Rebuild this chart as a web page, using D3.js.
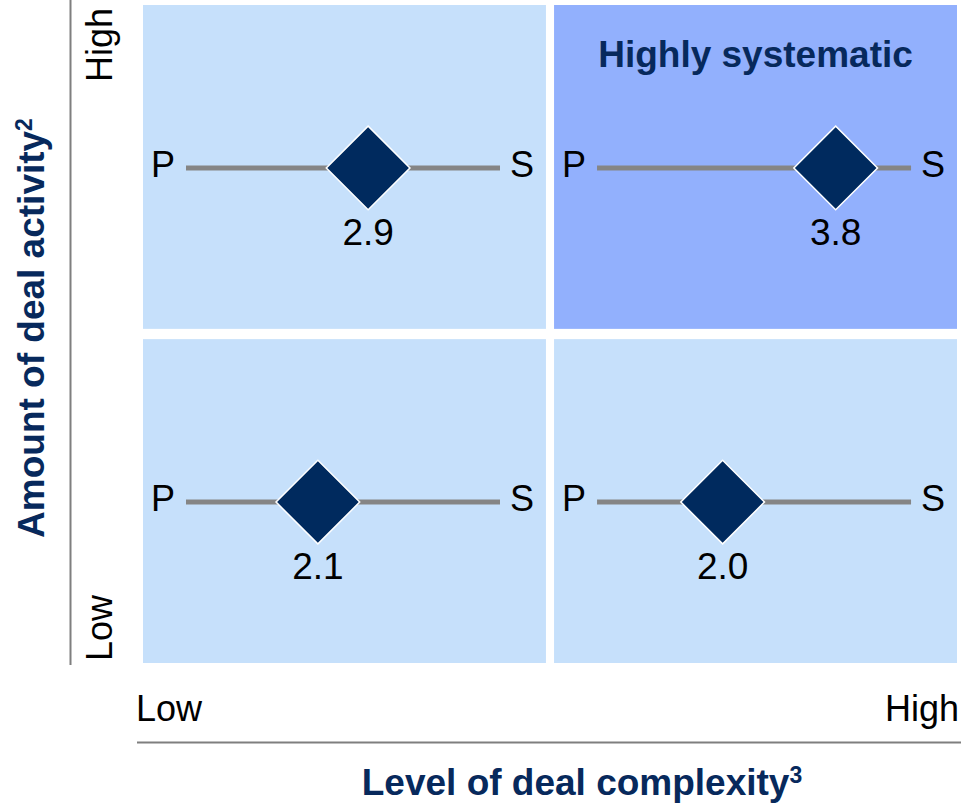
<!DOCTYPE html>
<html>
<head>
<meta charset="utf-8">
<script src="https://cdn.jsdelivr.net/npm/d3@7"></script>
<style>
  body { margin: 0; background: #fff; }
  text { font-family: Arial, "Liberation Sans", sans-serif; }
</style>
</head>
<body>
<div id="chart"></div>
<script>
const W = 961, H = 805

// data
var complexity = ["Low", "High"]      // columns
var activity = ["High", "Low"]        // rows, top first
var scores = [
  {col: "Low",  row: "High", value: 2.9},
  {col: "High", row: "High", value: 3.8},
  {col: "Low",  row: "Low",  value: 2.1},
  {col: "High", row: "Low",  value: 2.0}
]
var highlight = {col: "High", row: "High", label: "Highly systematic"}
var scaleEnds = ["P", "S"]
var scoreDomain = [0, 5]

const navy = "#07295c"

var svg = d3.select("#chart").append("svg")
  .attr("width", W)
  .attr("height", H)

var x = d3.scaleBand().domain(complexity).range([143, 957]).paddingInner(0.0197)
var y = d3.scaleBand().domain(activity).range([5, 663]).paddingInner(0.0307)

// cells
svg.selectAll("rect.cell")
  .data(d3.cross(complexity, activity))
  .enter()
  .append("rect")
    .attr("class", "cell")
    .attr("x", d => x(d[0]))
    .attr("y", d => y(d[1]))
    .attr("width", x.bandwidth())
    .attr("height", y.bandwidth())
    .attr("fill", d => (d[0] == highlight.col && d[1] == highlight.row) ? "#92b0fd" : "#c6e0fb")

// highlight title
svg.append("text")
  .attr("x", x(highlight.col) + x.bandwidth() / 2)
  .attr("y", y(highlight.row) + 62)
  .attr("text-anchor", "middle")
  .attr("font-size", 37)
  .attr("font-weight", "bold")
  .attr("fill", navy)
  .text(highlight.label)

// P..S scales inside each cell
var g = svg.selectAll("g.score")
  .data(scores)
  .enter()
  .append("g")
    .attr("class", "score")
    .attr("transform", d => "translate(" + x(d.col) + "," + (y(d.row) + y.bandwidth() / 2 + 1) + ")")

var s = d3.scaleLinear().domain(scoreDomain).range([43, 357])

g.append("line")
  .attr("x1", s(scoreDomain[0]))
  .attr("x2", s(scoreDomain[1]))
  .attr("stroke", "#858585")
  .attr("stroke-width", 5)

g.append("text")
  .attr("x", 20)
  .attr("y", 9)
  .attr("text-anchor", "middle")
  .attr("font-size", 36)
  .text(scaleEnds[0])

g.append("text")
  .attr("x", 379)
  .attr("y", 9)
  .attr("text-anchor", "middle")
  .attr("font-size", 36)
  .text(scaleEnds[1])

g.append("path")
  .attr("d", d3.symbol().type(d3.symbolSquare).size(3500))
  .attr("transform", d => "translate(" + s(d.value) + ",0) rotate(45)")
  .attr("fill", "#002a5e")
  .attr("stroke", "#fff")
  .attr("stroke-width", 1.5)

g.append("text")
  .attr("x", d => s(d.value))
  .attr("y", 77)
  .attr("text-anchor", "middle")
  .attr("font-size", 37)
  .text(d => d.value.toFixed(1))

// y axis
svg.append("line")
  .attr("x1", 70.5).attr("x2", 70.5)
  .attr("y1", 0).attr("y2", 665)
  .attr("stroke", "#7f7f7f")
  .attr("stroke-width", 2)

svg.append("text")
  .attr("transform", "translate(112,8) rotate(-90)")
  .attr("text-anchor", "end")
  .attr("font-size", 36)
  .text("High")

svg.append("text")
  .attr("transform", "translate(112,661) rotate(-90)")
  .attr("text-anchor", "start")
  .attr("font-size", 36)
  .text("Low")

var yt = svg.append("text")
  .attr("transform", "translate(44,328) rotate(-90)")
  .attr("text-anchor", "middle")
  .attr("font-size", 37)
  .attr("font-weight", "bold")
  .attr("fill", navy)
yt.append("tspan").text("Amount of deal activity")
yt.append("tspan").attr("font-size", 23).attr("dy", -12).text("2")

// x axis
svg.append("line")
  .attr("x1", 137).attr("x2", 961)
  .attr("y1", 742.5).attr("y2", 742.5)
  .attr("stroke", "#7f7f7f")
  .attr("stroke-width", 2)

svg.append("text")
  .attr("x", 136)
  .attr("y", 721)
  .attr("font-size", 36)
  .text("Low")

svg.append("text")
  .attr("x", 959)
  .attr("y", 721)
  .attr("text-anchor", "end")
  .attr("font-size", 36)
  .text("High")

var xt = svg.append("text")
  .attr("x", 582)
  .attr("y", 795)
  .attr("text-anchor", "middle")
  .attr("font-size", 37)
  .attr("font-weight", "bold")
  .attr("fill", navy)
xt.append("tspan").text("Level of deal complexity")
xt.append("tspan").attr("font-size", 23).attr("dy", -12).text("3")
</script>
</body>
</html>
